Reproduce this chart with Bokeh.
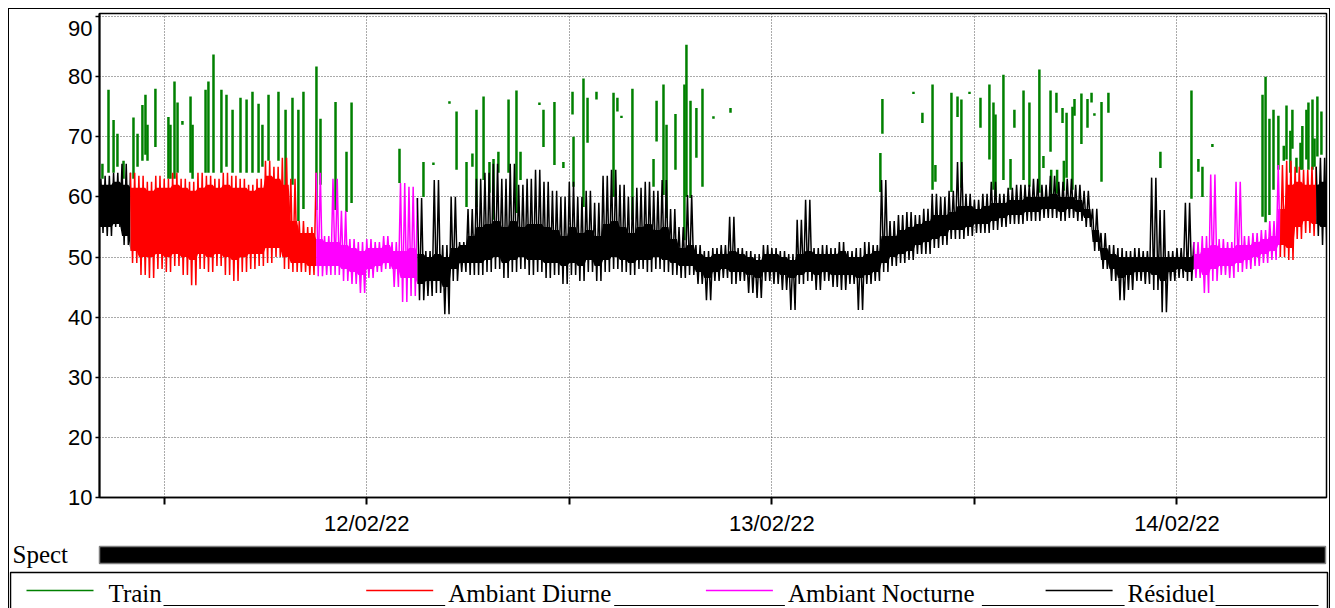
import numpy as np
from bokeh.plotting import figure
from bokeh.models import Range1d, FixedTicker, DatetimeTickFormatter
from bokeh.layouts import column
from bokeh.core.properties import value
from bokeh.embed import file_html
from bokeh.resources import INLINE

# ---------------- data (hours since 11/02/22 00:00, dB) ----------------
start_hour = 8.0          # first sample of the level series
step_hour = 0.5           # sampling of the envelopes

# extreme peaks / dips of the time history in each half hour
level_hi = [
    63, 63.5, 64, 65.5,
    64, 63.5, 62.5, 63.5, 63,
    64, 63, 62.5, 64, 63.5,
    63, 64, 63.5, 63, 62,
    63, 66, 65, 66.5, 63,
    56, 55, 64, 53.5, 63,
    57.7, 53, 52.5, 53, 52.5,
    53.5, 52.5, 62.3, 61.7, 59.8,
    51, 62.8, 52, 60, 52.5,
    58, 63, 64, 65.5, 63,
    65.5, 62, 63, 64.5, 62.5,
    61, 60, 62.5, 60, 61,
    59, 63.5, 64.5, 62, 60,
    61.5, 62.5, 61, 62.8, 58,
    55, 60.3, 52, 51, 51.5,
    52, 56.7, 51.5, 51, 50.5,
    52, 51.5, 51, 50.5, 56.2,
    59.5, 51.5, 52, 51.5, 52.5,
    51, 51.5, 52.5, 52, 62.8,
    56, 57, 57.5, 57, 58,
    60.5, 60, 61, 65.8, 60.5,
    59.5, 60.5, 62.5, 60.5, 61.5,
    62, 62, 63, 62, 63.5,
    62.5, 63, 62, 61, 58,
    54, 52, 51.5, 51, 51.5,
    51, 63.2, 57.8, 51, 51.5,
    59, 52.5, 53.5, 63.7, 53,
    52.5, 62.5, 53.5, 54, 54.5,
    56, 65.3, 66, 65, 64.5,
    65, 66.5, 65,
]
level_lo = [
    54, 53.5, 55, 52,
    49, 47, 46.5, 48, 47.5,
    48.5, 47, 45.3, 48, 47.5,
    48.5, 47, 46, 47.5, 48,
    48.5, 49, 50, 48, 47.5,
    47.5, 47, 46.8, 47, 47,
    46, 45.5, 44, 46.5, 47.5,
    48, 45, 42.5, 43.5, 42.8,
    43.5, 44, 40.5, 46, 47.5,
    47, 47, 47.5, 48, 46.5,
    47.5, 48, 47, 47.5, 46.5,
    47, 45.5, 47, 46, 47.5,
    46, 47.5, 48, 47.5, 47,
    48, 47.5, 48, 47.5, 47,
    46.5, 47, 45.5, 42.8, 46,
    46.5, 45.5, 46, 44, 43.2,
    46, 45.5, 44.5, 41.2, 45.5,
    46, 44.5, 46, 45, 44.5,
    45.5, 41.2, 45.5, 46, 47.5,
    48.5, 49, 49.5, 50.5, 50.5,
    51.5, 52, 53, 53, 53.5,
    54, 54, 54.5, 55, 55.5,
    55.5, 56, 56, 56.5, 56.5,
    56, 56.5, 56, 55, 51,
    48, 46, 42.8, 44.5, 46,
    45.5, 44.5, 40.8, 46, 46.5,
    46, 46.5, 44, 46, 47,
    46.5, 47.5, 48, 48.5, 49,
    49.5, 50, 49.5, 53, 54,
    53.5, 52, 54,
]
# upper / lower edge of the dense core of the time history
band_top = [
    62, 62, 62.5, 62,
    61.5, 61.5, 61, 61.5, 61.5,
    62, 61.5, 61, 61.5, 62,
    61.5, 62, 61.5, 61.5, 61,
    61.5, 63.5, 63, 62, 56,
    54, 54, 53, 52.5, 52.5,
    52, 51.5, 51, 51.5, 51.5,
    52, 51, 51, 51.5, 50.5,
    50, 50.5, 50, 51.5, 52,
    53.5, 55, 55.5, 56, 55,
    56, 55, 55.5, 55.5, 55,
    54.5, 53.5, 55, 54, 54.5,
    53.5, 55.5, 56, 55, 54,
    55, 55.5, 54.5, 55, 53,
    51.5, 52, 50.5, 50, 50.5,
    50.5, 51, 50.5, 50, 49.5,
    50.5, 50.5, 50, 49.5, 50.5,
    51, 50.5, 50.5, 50.5, 51,
    50, 50, 50.5, 51, 53.5,
    53.5, 54.5, 55, 55.5, 56,
    57, 57, 57.5, 58.5, 58.5,
    58, 58.5, 59, 59, 59.5,
    59.5, 60, 60, 60, 60.5,
    60, 60, 59.5, 58, 54.5,
    51.5, 50.5, 50, 50, 50,
    50, 50, 50, 50, 50,
    50, 50.5, 51.5, 52, 51.5,
    51.5, 52, 52, 52.5, 53,
    53.5, 58, 62, 62.5, 62,
    62, 62.5, 62,
]
band_bot = [
    55, 55, 55.5, 53.5,
    51, 50, 50, 50.5, 50,
    50.5, 50, 49.5, 50.5, 50,
    50.5, 50, 49.5, 50, 50.5,
    50.5, 51.5, 51.5, 50, 49,
    49, 48.5, 48.5, 48.5, 48.5,
    48, 47.5, 47, 48, 48.5,
    49, 48, 46.5, 46.5, 45.5,
    46, 46, 45, 48, 49,
    49, 49, 49.5, 50, 49,
    49.5, 50, 49.5, 49.5, 49,
    49, 48.5, 49, 48.5, 49.5,
    48.5, 49.5, 50, 49.5, 49,
    49.5, 49.5, 50, 49.5, 49,
    48.5, 48.5, 47.5, 46.5, 47.5,
    48, 47.5, 47.5, 47, 46.5,
    47.5, 47.5, 47, 46.5, 47,
    47.5, 47, 47.5, 47, 47,
    47, 46.5, 47, 47.5, 49,
    50, 50.5, 51, 52, 52.5,
    53, 53.5, 54.5, 54.5, 55,
    55.5, 55.5, 56, 56.5, 57,
    57, 57.5, 57.5, 58, 58,
    57.5, 58, 57.5, 56.5, 52.5,
    49.5, 48, 46.5, 47, 47.5,
    47.5, 47, 46, 47.5, 48,
    47.5, 48, 47, 48, 48.5,
    48.5, 49, 49.5, 50, 50.5,
    51, 52, 51.5, 55, 56,
    55.5, 55, 55.5,
]

# classification periods (hours)
period_class = ["Résiduel", "Ambiant Diurne", "Ambiant Nocturne", "Résiduel",
                "Ambiant Nocturne", "Ambiant Diurne", "Résiduel"]
period_start = [8.0, 10.0, 21.0, 27.0, 73.0, 78.125, 80.25]
period_end = [10.0, 21.0, 27.0, 73.0, 78.125, 80.25, 81.5]

# train events: hour, level at base, peak level
train_hour = [8.34, 8.70, 9.00, 9.23, 9.59, 10.18, 10.42, 10.71, 10.89, 11.01, 11.48,
              12.25, 12.37, 12.61, 12.79, 13.08, 13.56, 13.68, 14.45, 14.62, 14.92,
              15.39, 15.69, 16.05, 16.52, 16.88, 17.23, 17.59, 17.82, 18.18, 18.77,
              19.19, 19.60, 19.95, 20.25, 21.02, 21.26, 22.15, 22.80, 23.10, 25.94,
              27.36, 27.95, 28.90, 29.32, 29.91, 30.26, 30.50, 30.92, 31.27, 31.51,
              31.80, 32.40, 32.87, 33.11, 34.23, 34.47, 35.12, 35.65, 36.19, 36.25,
              36.84, 37.08, 37.61, 38.62, 38.85, 39.09, 39.74, 40.99, 41.17, 41.58,
              41.76, 42.29, 42.82, 42.94, 43.18, 43.53, 43.89, 44.54, 45.55,
              54.43, 54.55, 56.39, 56.92, 57.52, 57.69, 58.64, 59.00, 59.23, 59.71,
              60.36, 60.89, 61.13, 61.25, 61.72, 62.14, 62.37, 62.91, 63.26, 63.85,
              64.09, 64.51, 64.55, 64.86, 64.90, 65.22, 65.30, 65.46, 65.81, 65.93,
              66.34, 66.70, 66.94, 67.11, 67.53, 67.94, 71.02, 72.86, 73.27, 73.51,
              74.10, 77.07, 77.25, 77.48, 77.72, 78.01, 78.33, 78.49, 78.72, 78.84,
              79.08, 79.32, 79.43, 79.67, 79.79, 80.03, 80.15, 80.32, 80.56]
train_lo = [63, 64, 64, 65, 63, 63, 65, 66, 67, 66, 68.3,
            63, 63, 63, 64, 72, 64, 63, 64, 64, 64,
            64, 65, 64, 64, 64, 64, 64, 65, 66, 66,
            56, 62, 56, 58, 57.8, 62, 57.8, 57.5, 59, 62.3,
            60, 65.3, 75.5, 64.5, 58.3, 65, 58.3, 62.8, 60.7, 56.2,
            64, 64, 57.3, 62.8, 75.3, 68.3, 65.3, 64.8, 73.7, 61.7,
            58.3, 69, 76.2, 60, 74.2, 73.1, 56.2, 61.7, 69.2, 60.3,
            56.5, 64.5, 52.8, 60, 59.8, 66.5, 61.7, 73, 74,
            60.8, 70.5, 77.1, 72.3, 61.2, 62.5, 60.8, 73.3, 61.5, 77.1,
            71.5, 66.2, 61.2, 60, 62.8, 61.2, 71.5, 62.8, 61.7, 60.7,
            64.8, 67.5, 60.5, 74, 60.5, 72.3, 61, 63.2, 61.2, 73.5,
            68.8, 71.5, 75.7, 73.5, 62.5, 74, 64.8, 59.7, 64.2, 60,
            68.3, 56.7, 55.8, 57, 61.2, 64.5, 66, 66.2, 64, 68,
            64, 64.5, 64.5, 66.2, 64.5, 64.5, 65, 66.7, 67]
train_hi = [65.5, 77.8, 72.8, 70.5, 66, 73.2, 70.5, 75.3, 77, 72, 78,
            73.3, 72, 79.2, 75.7, 72.6, 76.7, 72, 77.8, 79.2, 83.7,
            77.8, 77, 74.5, 76.5, 76.2, 77.5, 75.5, 72, 77, 77.5,
            74.5, 76.5, 74.5, 77.5, 81.7, 73, 75.8, 67.5, 75.7, 68,
            65.8, 65.7, 75.9, 74.2, 65.8, 67.2, 74.5, 76.7, 65.8, 66.3,
            67.5, 76.2, 77.7, 67.5, 75.7, 74.5, 75.8, 65.8, 77.5, 70,
            79.7, 76.5, 77.5, 77.3, 76.5, 73.5, 78, 66.3, 76, 78.7,
            72, 73.8, 78.7, 85.3, 76, 74.8, 78, 73.4, 74.8,
            67.3, 76.3, 77.5, 74, 78.7, 65.3, 77.3, 76.7, 76.2, 77.5,
            76.5, 78.7, 75.7, 73.7, 80.3, 66.3, 74.5, 77.7, 75.7, 81.2,
            66.8, 77.7, 64.5, 77.3, 64.5, 74.8, 66, 74, 75, 76.3,
            77.2, 76.3, 77.3, 73.9, 75.8, 77.3, 67.5, 77.7, 66.3, 65,
            68.8, 77, 80, 73, 74.5, 73.5, 68.5, 75.2, 71, 74.5,
            66.5, 69, 71.8, 74.5, 75.7, 76.2, 69.7, 76.7, 74.2]

y_ticks = [10, 20, 30, 40, 50, 60, 70, 80, 90]
x_tick_hours = [12, 24, 36, 48, 60, 72]
x_tick_labels = ["", "12/02/22", "", "13/02/22", "", "14/02/22"]
view_start_hour, view_end_hour = 8.1667, 80.86

legend_labels = ["Train", "Ambiant Diurne", "Ambiant Nocturne", "Résiduel"]
class_colors = {"Train": "#008000", "Ambiant Diurne": "#ff0000",
                "Ambiant Nocturne": "#ff00ff", "Résiduel": "#000000"}

# ---------------- helpers ----------------
BASE_MS = 1644537600000.0  # 2022-02-11 00:00


def to_ms(h):
    return BASE_MS + np.asarray(h, dtype=float) * 3600000.0


hi = np.asarray(level_hi, float)
lo = np.asarray(level_lo, float)
bt = np.asarray(band_top, float)
bb = np.asarray(band_bot, float)
n = len(hi)
t0 = start_hour + step_hour * np.arange(n)
sub = step_hour / 4.0
vt = np.concatenate([[t, t + sub, t + 2 * sub, t + 3 * sub] for t in t0])
vv = np.concatenate([[a, b, a, b] for a, b in zip(hi, lo)])
vtop = np.repeat(bt, 4)
vbot = np.repeat(bb, 4)

# ---------------- main chart ----------------
W = 1320
p = figure(width=W, height=531, x_axis_type="datetime",
           x_range=Range1d(to_ms(view_start_hour), to_ms(view_end_hour)),
           y_range=Range1d(10, 90.5),
           output_backend="svg", toolbar_location=None,
           min_border_left=90, min_border_top=4, min_border_right=3, min_border_bottom=43)
p.frame_align = False
p.background_fill_color = "white"
p.border_fill_color = "white"
p.outline_line_color = "black"
p.outline_line_width = 1.5

# train events (drawn first, the level bands cover their feet)
p.segment(x0=to_ms(train_hour), y0=train_lo, x1=to_ms(train_hour), y1=train_hi,
          line_color=class_colors["Train"], line_width=2.5)

for cls, a, b in zip(period_class, period_start, period_end):
    m = (vt >= a - 1e-9) & (vt <= b + 1e-9)
    col = class_colors[cls]
    p.varea(x=to_ms(vt[m]), y1=vbot[m], y2=vtop[m], fill_color=col)
    p.line(to_ms(vt[m]), vv[m], line_color=col, line_width=1.5)

p.yaxis.ticker = FixedTicker(ticks=y_ticks)
# the top label sits just below its tick so that it stays inside the box
p.yaxis.major_label_overrides = {90: "\n90"}
p.yaxis.major_label_text_line_height = 0.25
p.xaxis.ticker = FixedTicker(ticks=list(to_ms(x_tick_hours)))
p.xaxis.formatter = DatetimeTickFormatter(days="%d/%m/%y", hours="%d/%m/%y",
                                          months="%d/%m/%y")
p.xaxis.major_label_overrides = {float(to_ms(h)): lab for h, lab in zip(x_tick_hours, x_tick_labels)}

for ax in (p.xaxis[0], p.yaxis[0]):
    ax.major_label_text_font = "Liberation Sans"
    ax.major_label_text_font_size = "22px"
    ax.major_label_text_color = "black"
    ax.axis_line_color = "black"
    ax.major_tick_line_color = "black"
    ax.major_tick_in = 0
    ax.minor_tick_line_color = None
p.yaxis.axis_line_width = 2
p.yaxis.major_tick_out = 4
p.yaxis.major_tick_line_width = 1.5
p.yaxis.major_label_standoff = 3
p.xaxis.axis_line_width = 1.5
p.xaxis.major_tick_out = 7
p.xaxis.major_tick_line_width = 2
p.xaxis.major_label_standoff = 6

p.grid.grid_line_color = "#555555"
p.grid.grid_line_dash = "1 2"
p.grid.grid_line_width = 1
p.ygrid.ticker = FixedTicker(ticks=y_ticks)
p.xgrid.ticker = FixedTicker(ticks=list(to_ms(x_tick_hours)))

# ---------------- spectrum strip + legend ----------------
H2 = 68
q = figure(width=W, height=H2, x_range=Range1d(0, W), y_range=Range1d(H2, 0),
           x_axis_location=None, y_axis_location=None,
           output_backend="svg", toolbar_location=None, min_border=0)
q.frame_align = False
q.grid.visible = False
q.outline_line_color = None
q.background_fill_color = "white"
q.border_fill_color = "white"

q.text(x=[3], y=[14], text=["Spect"], text_font=value("Liberation Serif"),
       text_font_size="25px", text_baseline="middle", text_color="black")
q.quad(left=[90], right=[1316], top=[6], bottom=[23], fill_color="black",
       line_color="#7f7f7f", line_width=1.5)

q.multi_line(xs=[[1, 1, 1318, 1318]], ys=[[75, 32, 32, 75]], line_color="black", line_width=1.5)

slot = 339.7
label_widths = [55, 166, 194, 88]
line_x0 = [17 + i * slot for i in range(4)]
q.multi_line(xs=[[x, x + 67] for x in line_x0], ys=[[50, 50]] * 4,
             line_color=[class_colors[l] for l in legend_labels], line_width=1.5)
text_x = [x + 82 for x in line_x0]
q.text(x=text_x, y=[53] * 4, text=legend_labels, text_font=value("Liberation Serif"),
       text_font_size="25px", text_baseline="middle", text_color="black")
ul_start = [tx + w for tx, w in zip(text_x, label_widths)]
ul_end = [tx - 3 for tx in text_x[1:]] + [1309]
q.segment(x0=ul_start, y0=[65] * 4, x1=ul_end, y1=[65] * 4, line_color="black", line_width=1)

layout = column(p, q, spacing=0, styles={"border": "1px solid black"})

html = file_html(layout, INLINE, title="Sonomètre")
style = ("<style>html, body {overflow: hidden;} "
         "body {padding: 8px 0 0 8px !important;}</style>")
html = html.replace("</head>", style + "</head>", 1)
open("out.html", "w").write(html)
